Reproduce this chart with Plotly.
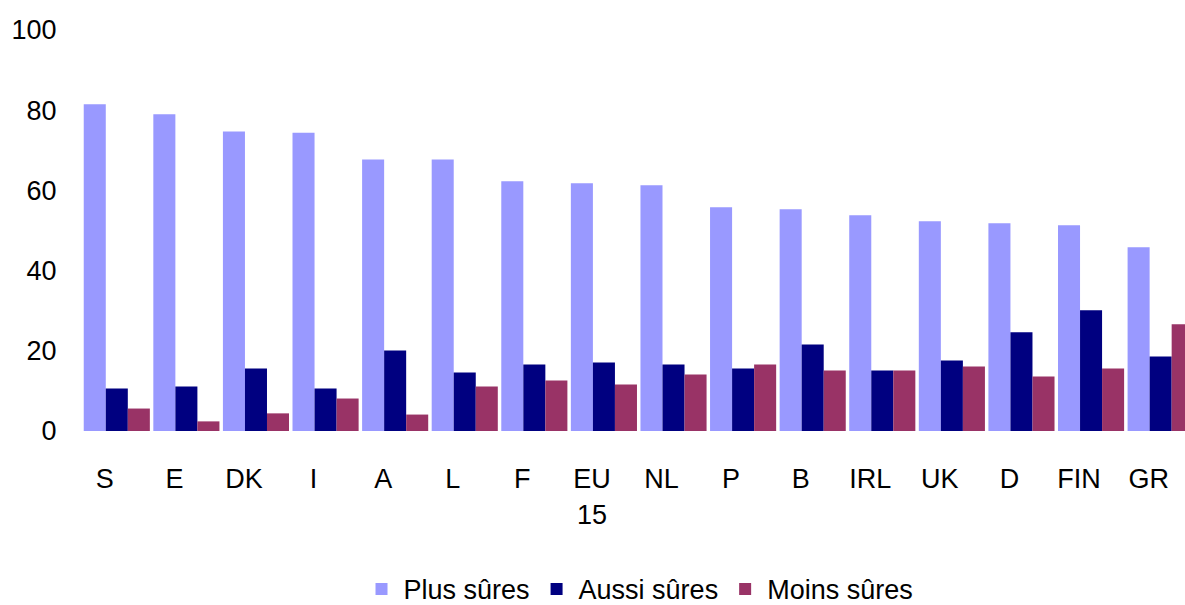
import plotly.graph_objects as go

categories = ["S", "E", "DK", "I", "A", "L", "F", "EU<br>15", "NL", "P", "B", "IRL", "UK", "D", "FIN", "GR"]
plus_sures = [81.5, 79, 74.7, 74.4, 67.7, 67.7, 62.3, 61.8, 61.3, 55.8, 55.3, 53.8, 52.3, 51.8, 51.3, 45.8]
aussi_sures = [10.6, 11.1, 15.6, 10.6, 20.1, 14.6, 16.6, 17.1, 16.6, 15.6, 21.6, 15.1, 17.6, 24.6, 30.1, 18.6]
moins_sures = [5.6, 2.4, 4.4, 8.1, 4.1, 11.1, 12.6, 11.6, 14.1, 16.6, 15.1, 15.1, 16.1, 13.6, 15.6, 26.6]

series_names = ["Plus sûres", "Aussi sûres", "Moins sûres"]
series_values = [plus_sures, aussi_sures, moins_sures]
colors = ["#9999FF", "#000080", "#993366"]

FONT = "Liberation Sans, Arial, sans-serif"

fig = go.Figure()
for name, vals, col in zip(series_names, series_values, colors):
    fig.add_trace(go.Bar(x=categories, y=vals, name=name, marker=dict(color=col, line=dict(width=0))))

fig.update_layout(
    width=1185, height=605,
    margin=dict(l=82, r=0, t=30, b=174, autoexpand=False),
    paper_bgcolor="white", plot_bgcolor="white",
    barmode="group", bargap=0.05, bargroupgap=0,
    font=dict(family=FONT, size=27, color="black"),
    showlegend=True,
    legend=dict(orientation="h", x=0.505, xanchor="center", xref="paper",
                y=-0.395, yanchor="middle", yref="paper",
                font=dict(size=27), itemwidth=34, tracegroupgap=0),
)
fig.update_xaxes(
    type="category", range=[-0.5, 15.35], automargin=False,
    showgrid=False, showline=False, zeroline=False,
    ticks="outside", ticklen=24, tickcolor="rgba(0,0,0,0)",
    ticklabelshift=-12,
    tickfont=dict(size=27),
)
fig.update_yaxes(
    range=[0, 100], tickvals=[0, 20, 40, 60, 80, 100], automargin=False,
    showgrid=False, showline=False, zeroline=False,
    ticks="outside", ticklen=19, tickcolor="rgba(0,0,0,0)",
    tickfont=dict(size=27),
)

fig.write_html(
    "out.html",
    config={"displayModeBar": False},
    post_script="document.body.style.margin='0';document.body.style.overflow='hidden';",
)
